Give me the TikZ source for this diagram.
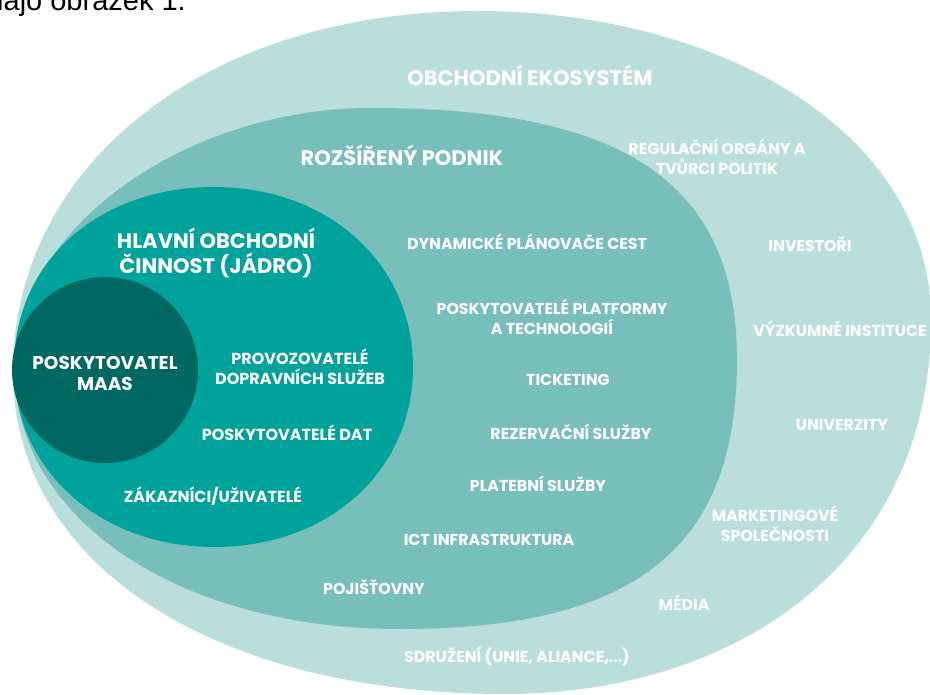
\documentclass[tikz,border=0pt]{standalone}
\usepackage{fontspec}
\setmainfont{Poppins}
\newfontfamily\docfont{Liberation Sans}
\definecolor{ecoC}{RGB}{186,222,220}
\definecolor{entC}{RGB}{120,190,187}
\definecolor{coreC}{RGB}{0,163,155}
\definecolor{maasC}{RGB}{0,104,98}
\begin{document}
\begin{tikzpicture}[x=1pt,y=-1pt,
  lbl/.style={text=white,inner sep=0pt,align=center,font=\bfseries\fontsize{15.8}{19.5}\selectfont},
  ttl/.style={text=white,inner sep=0pt,align=center,font=\bfseries\fontsize{21}{25}\selectfont},
  mid/.style={text=white,inner sep=0pt,align=center,font=\bfseries\fontsize{16}{20}\selectfont}]
\useasboundingbox (0,0) rectangle (930,695);
% document text cut at top
\node[anchor=base west,inner sep=0pt,font=\docfont\fontsize{29}{29}\selectfont] (doc) at (-3,11) {lajo obrázek 1.};
% outer shape (business ecosystem)
\fill[ecoC] (13,372) .. controls (13,163) and (208,11) .. (478,11)
  .. controls (714,11) and (931,128) .. (931,320)
  .. controls (931,560) and (739,694) .. (505,694)
  .. controls (215,694) and (13,565) .. cycle;
% middle shape (extended enterprise)
\fill[entC] (15,370) .. controls (15,225) and (190,108) .. (371,108)
  .. controls (627,108) and (737,184) .. (737,360)
  .. controls (737,548) and (636,629) .. (400,629)
  .. controls (180,629) and (15,520) .. cycle;
% core shape
\fill[coreC] (14,367) .. controls (14,260) and (100,187) .. (214,187)
  .. controls (330,187) and (413,265) .. (413,367)
  .. controls (413,470) and (330,547) .. (214,547)
  .. controls (100,547) and (14,470) .. cycle;
% MaaS circle
\fill[maasC] (105,370) circle [radius=93pt];
% labels
\node[ttl] (eco) at (530,75) {OBCHODNÍ EKOSYSTÉM};
\node[ttl] (ent) at (402,155) {ROZŠÍŘENÝ PODNIK};
\node[ttl] (core) at (216,253) {HLAVNÍ OBCHODNÍ\\ČINNOST (JÁDRO)};
\node[mid,font=\bfseries\fontsize{18.5}{21}\selectfont] (maas) at (105,373) {POSKYTOVATEL\\MAAS};
\node[mid] (prov) at (300,367) {PROVOZOVATELÉ\\DOPRAVNÍCH SLUŽEB};
\node[mid] (dat) at (287,433) {POSKYTOVATELÉ DAT};
\node[mid] (zak) at (213,496) {ZÁKAZNÍCI/UŽIVATELÉ};
\node[lbl] (dyn) at (527,242) {DYNAMICKÉ PLÁNOVAČE CEST};
\node[lbl] (plat) at (552,317) {POSKYTOVATELÉ PLATFORMY\\A TECHNOLOGIÍ};
\node[lbl] (tick) at (568,380) {TICKETING};
\node[lbl] (rez) at (571,432) {REZERVAČNÍ SLUŽBY};
\node[lbl] (pay) at (538,484) {PLATEBNÍ SLUŽBY};
\node[lbl] (ict) at (489,540) {ICT INFRASTRUKTURA};
\node[lbl] (poj) at (374,587) {POJIŠŤOVNY};
\node[lbl] (reg) at (717,157) {REGULAČNÍ ORGÁNY A\\TVŮRCI POLITIK};
\node[lbl] (inv) at (810,244) {INVESTOŘI};
\node[lbl] (vyz) at (840,329) {VÝZKUMNÉ INSTITUCE};
\node[lbl] (uni) at (842,425) {UNIVERZITY};
\node[lbl] (mkt) at (775,524) {MARKETINGOVÉ\\SPOLEČNOSTI};
\node[lbl] (med) at (684,603) {MÉDIA};
\node[lbl] (sdr) at (517,656) {SDRUŽENÍ (UNIE, ALIANCE,...)};
\end{tikzpicture}
\end{document}
